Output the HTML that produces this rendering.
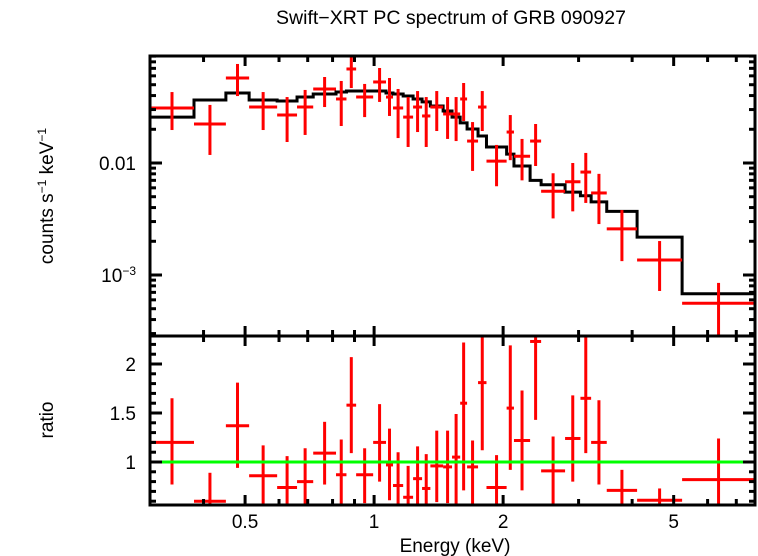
<!DOCTYPE html>
<html><head><meta charset="utf-8"><style>
html,body{margin:0;padding:0;background:#fff;}
svg{display:block;font-family:"Liberation Sans",sans-serif;}
</style></head><body>
<svg id="chart" width="758" height="556" viewBox="0 0 758 556">
<text x="451" y="24" font-size="19.5" text-anchor="middle">Swift−XRT PC spectrum of GRB 090927</text>
<text transform="translate(53,196) rotate(-90)" font-size="19" text-anchor="middle">counts s<tspan font-size="12" dy="-7">−1</tspan><tspan dy="7"> keV</tspan><tspan font-size="12" dy="-7">−1</tspan></text>
<text transform="translate(53,420) rotate(-90)" font-size="19" text-anchor="middle">ratio</text>
<text x="455" y="552" font-size="19" text-anchor="middle">Energy (keV)</text>
<defs>
<clipPath id="clipTop"><rect x="150" y="56" width="605" height="280"/></clipPath>
<clipPath id="clipBot"><rect x="150" y="336" width="605" height="169"/></clipPath>
</defs>
<g id="topPanel" clip-path="url(#clipTop)"></g>
<g id="botPanel" clip-path="url(#clipBot)"></g>
<g id="axesGroup"></g>
</svg>
<script>
const binLo = [0.300,0.380,0.451,0.511,0.594,0.661,0.721,0.815,0.862,0.908,0.995,1.066,1.107,1.169,1.233,1.294,1.353,1.449,1.520,1.588,1.648,1.748,1.829,2.038,2.120,2.312,2.453,2.790,3.030,3.209,3.490,4.108,5.232];
const binHi = [0.380,0.451,0.511,0.594,0.661,0.721,0.815,0.862,0.908,0.995,1.066,1.107,1.169,1.233,1.294,1.353,1.449,1.520,1.588,1.648,1.748,1.829,2.038,2.120,2.312,2.453,2.790,3.030,3.209,3.490,4.108,5.232,7.74];
const counts = [0.0310,0.0223,0.0574,0.0316,0.0268,0.0316,0.0458,0.0373,0.0691,0.0388,0.0529,0.0388,0.0310,0.0257,0.0316,0.0263,0.0316,0.0274,0.0274,0.0373,0.0157,0.0316,0.0104,0.0189,0.0115,0.0157,0.0056,0.0068,0.0083,0.0054,0.00258,0.00136,0.00056];
const countsLo = [0.0197,0.0118,0.0396,0.0197,0.0154,0.0178,0.0316,0.0214,0.0467,0.0257,0.0351,0.0263,0.0167,0.0139,0.0189,0.0139,0.0193,0.0164,0.0157,0.0237,0.0085,0.0193,0.0062,0.0106,0.0070,0.0094,0.0032,0.0037,0.0044,0.00285,0.00133,0.00072,0.000285];
const countsHi = [0.0430,0.0330,0.0766,0.0430,0.0388,0.0449,0.0586,0.0540,0.0921,0.0508,0.0705,0.0574,0.0458,0.0388,0.0439,0.0388,0.0439,0.0388,0.0388,0.0518,0.0232,0.0439,0.0145,0.0268,0.0164,0.0223,0.0081,0.0100,0.0123,0.0080,0.0038,0.00201,0.00085];
const model = [0.0257,0.0365,0.0422,0.0365,0.0358,0.0388,0.0413,0.0430,0.0439,0.0439,0.0439,0.0422,0.0413,0.0396,0.0373,0.0351,0.0323,0.0291,0.0257,0.0228,0.0201,0.0174,0.0139,0.0120,0.0094,0.0070,0.0064,0.0055,0.0051,0.0045,0.0037,0.00218,0.00068];
const ratio = [1.20,0.60,1.37,0.86,0.74,0.80,1.09,0.87,1.58,0.87,1.20,0.97,0.76,0.64,0.83,0.73,0.96,0.95,1.05,1.60,0.95,1.81,0.74,1.55,1.22,2.23,0.91,1.24,1.65,1.20,0.71,0.61,0.82];
const ratioLo = [0.77,0.30,0.94,0.50,0.40,0.45,0.77,0.50,1.09,0.58,0.80,0.61,0.40,0.30,0.45,0.40,0.59,0.58,0.50,0.71,0.50,1.12,0.40,0.92,0.71,1.43,0.50,0.80,1.09,0.77,0.40,0.40,0.40];
const ratioHi = [1.65,0.89,1.81,1.17,1.06,1.14,1.41,1.23,2.07,1.14,1.59,1.34,1.10,0.96,1.16,1.08,1.32,1.32,1.49,2.22,1.22,2.28,1.07,2.19,1.73,2.60,1.26,1.68,2.60,1.63,0.92,0.73,1.24];
const xTickLabels = [0.5,1,2,5];
const topTickLabels = ["0.01","10−3"];
const ratioTickLabels = [1,1.5,2];

const NS='http://www.w3.org/2000/svg';
const X0=150,X1=755,TY0=56,TY1=336,BY0=336,BY1=505;
const lxMin=Math.log10(0.300), lxMax=Math.log10(7.74);
function xs(e){return X0+(Math.log10(e)-lxMin)/(lxMax-lxMin)*(X1-X0);}
function ys(v){return 163-(Math.log10(v)+2)*112;}
function yr(r){return 462-(r-1)*98;}
function mk(tag,attrs,parent){const el=document.createElementNS(NS,tag);for(const k in attrs)el.setAttribute(k,attrs[k]);parent.appendChild(el);return el;}
const topG=document.getElementById('topPanel'),botG=document.getElementById('botPanel'),axesG=document.getElementById('axesGroup');

let d='';
for(let i=0;i<model.length;i++){
  const y=ys(model[i]);
  d+=(i===0?'M':'L')+xs(binLo[i])+','+y+' L'+xs(binHi[i])+','+y+' ';
}
const ml=mk('path',{d:d,fill:'none',stroke:'#000','stroke-width':3},topG);



for(let i=0;i<counts.length;i++){
  const xc=xs(Math.sqrt(binLo[i]*binHi[i]));
  const g=mk('g',{stroke:'#f00','stroke-width':3},topG);
  
  
  mk('line',{x1:xs(binLo[i]),x2:xs(binHi[i]),y1:ys(counts[i]),y2:ys(counts[i])},g);
  mk('line',{x1:xc,x2:xc,y1:ys(countsLo[i]),y2:ys(countsHi[i])},g);
  const g2=mk('g',{stroke:'#f00','stroke-width':3},botG);
  
  
  mk('line',{x1:xs(binLo[i]),x2:xs(binHi[i]),y1:yr(ratio[i]),y2:yr(ratio[i])},g2);
  mk('line',{x1:xc,x2:xc,y1:yr(ratioLo[i]),y2:yr(ratioHi[i])},g2);
}
const gl=mk('line',{x1:X0,x2:X1,y1:yr(1),y2:yr(1),stroke:'#0f0','stroke-width':3},botG);



const f1=mk('rect',{x:X0,y:TY0,width:X1-X0,height:TY1-TY0,fill:'none',stroke:'#000','stroke-width':3},axesG);


const f2=mk('rect',{x:X0,y:BY0,width:X1-X0,height:BY1-BY0,fill:'none',stroke:'#000','stroke-width':3},axesG);



const tk={stroke:'#000','stroke-width':3};
for(let dec=-1;dec<=0;dec++){
  for(let m=1;m<=9;m++){
    const e=m*Math.pow(10,dec);
    if(e<0.3||e>7.74)continue;
    const x=xs(e);
    const major=(Math.abs(e-0.5)<1e-9||Math.abs(e-1)<1e-9||Math.abs(e-2)<1e-9||Math.abs(e-5)<1e-9);
    const L=major?10:6;
    [[TY0,TY0+L],[TY1,TY1-L],[BY0,BY0+L],[BY1,BY1-L]].forEach(p=>mk('line',Object.assign({x1:x,x2:x,y1:p[0],y2:p[1]},tk),axesG));
  }
}
xTickLabels.forEach(v=>{
  const t=mk('text',{x:xs(v),y:528,'font-size':19,'text-anchor':'middle'},axesG);
  t.textContent=String(v);
  
  
});
for(let dec=-4;dec<=-1;dec++){
  for(let m=1;m<=9;m++){
    const v=m*Math.pow(10,dec);const y=ys(v);
    if(y<TY0||y>TY1)continue;
    const L=m===1?12:6;
    mk('line',Object.assign({x1:X0,x2:X0+L,y1:y,y2:y},tk),axesG);
    mk('line',Object.assign({x1:X1,x2:X1-L,y1:y,y2:y},tk),axesG);
  }
}
const t1=mk('text',{x:136,y:ys(0.01)+7,'font-size':19,'text-anchor':'end'},axesG);
t1.textContent=topTickLabels[0];


const t2=mk('text',{x:136,y:ys(0.001)+7,'font-size':19,'text-anchor':'end'},axesG);
t2.innerHTML='10<tspan font-size="12" dy="-7">−3</tspan>';


for(let k=6;k<=22;k++){
  const r=k/10;const y=yr(r);
  if(y<BY0||y>BY1)continue;
  const L=(k%5===0)?12:6;
  mk('line',Object.assign({x1:X0,x2:X0+L,y1:y,y2:y},tk),axesG);
  mk('line',Object.assign({x1:X1,x2:X1-L,y1:y,y2:y},tk),axesG);
}
ratioTickLabels.forEach(v=>{
  const t=mk('text',{x:136,y:yr(v)+7,'font-size':19,'text-anchor':'end'},axesG);
  t.textContent=String(v);
  
  
});
</script>
</body></html>
